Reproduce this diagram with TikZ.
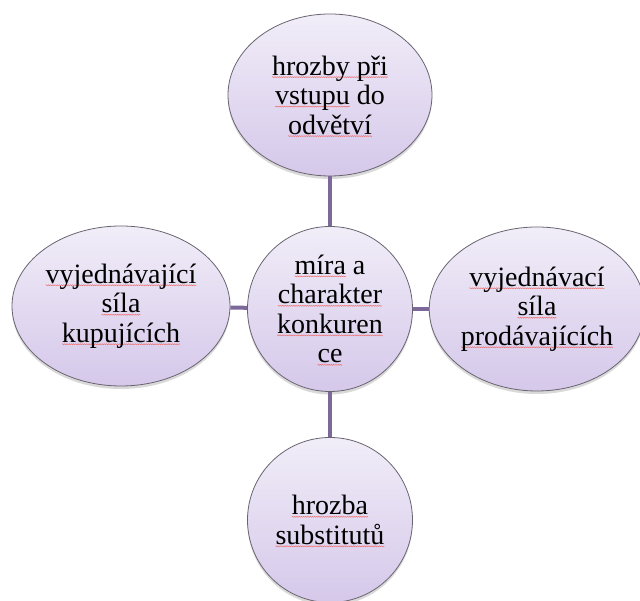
\documentclass[tikz,border=0pt]{standalone}
\usepackage{fontspec}
\setmainfont{Liberation Serif}
\usetikzlibrary{shapes.geometric,shadows,decorations.pathmorphing}
\definecolor{fillTop}{HTML}{F1EDF8}
\definecolor{fillBot}{HTML}{D5C8EA}
\definecolor{rim}{HTML}{6A6470}
\definecolor{link}{HTML}{7D6999}
\definecolor{squigred}{HTML}{EE7070}
\newsavebox\sqbox
\newcommand\squig[1]{\sbox\sqbox{#1}\rlap{\tikz[overlay,baseline=0pt]\draw[squigred,line width=0.5pt,decorate,decoration={snake,amplitude=0.5pt,segment length=2.2pt}] (0pt,-2pt)--(\wd\sqbox,-2pt);}\usebox\sqbox}
\begin{document}
\begin{tikzpicture}[x=1pt,y=1pt,
  bubble/.style={ellipse, draw=rim, line width=0.8pt, top color=fillTop, bottom color=fillBot,
    inner sep=0pt, align=center, font=\fontsize{28}{29.5}\selectfont,
    drop shadow={shadow xshift=0pt, shadow yshift=-3pt, opacity=0.25, fill=black!60}},
  linkline/.style={draw=link, line width=4pt}]
\useasboundingbox (0,0) rectangle (640,601);
\clip (0,0) rectangle (640,601);
\node[bubble, minimum width=204, minimum height=162] (top) at (330,506) {\squig{hrozby při}\\\squig{vstupu} do\\\squig{odvětví}};
\node[bubble, minimum width=165, minimum height=165] (mid) at (330,292) {\squig{míra} a\\\squig{charakter}\\\squig{konkuren}\\\squig{ce}};
\node[bubble, minimum width=218, minimum height=160] (left) at (121,295) {\squig{vyjednávající}\\\squig{síla}\\\squig{kupujících}};
\node[bubble, minimum width=208, minimum height=164] (right) at (537,292) {\squig{vyjednávací}\\\squig{síla}\\\squig{prodávajících}};
\node[bubble, minimum width=165, minimum height=165] (bot) at (330,81) {\squig{hrozba}\\\squig{substitutů}};
\draw[linkline] (mid) -- (top);
\draw[linkline] (mid) -- (bot);
\draw[linkline] (mid) -- (left);
\draw[linkline] (mid) -- (right);
\end{tikzpicture}
\end{document}
